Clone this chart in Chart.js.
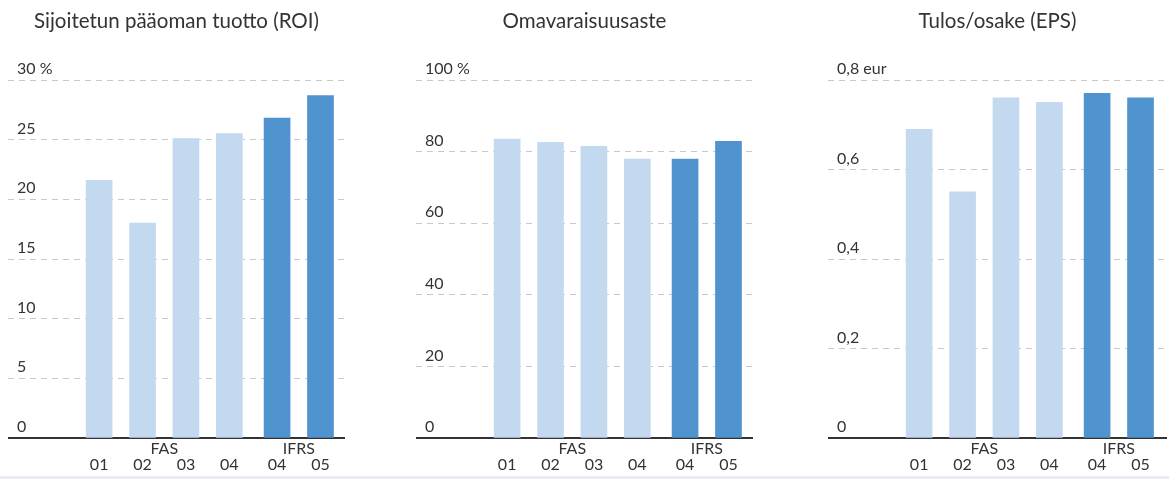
<!DOCTYPE html>
<html>
<head>
<meta charset="utf-8">
<script src="https://cdn.jsdelivr.net/npm/chart.js@4.4.1/dist/chart.umd.min.js"></script>
<style>
html, body { margin: 0; padding: 0; background: #ffffff; }
body { width: 1169px; height: 479px; position: relative; overflow: hidden; }
canvas { position: absolute; top: 0; }
#strip { position: absolute; left: 0; top: 476px; width: 1169px; height: 3px; background: #e7edf3; }
</style>
</head>
<body>
<canvas id="c1" width="337" height="479" style="left:8px"></canvas>
<canvas id="c2" width="337" height="479" style="left:416px"></canvas>
<canvas id="c3" width="339" height="479" style="left:828px"></canvas>
<div id="strip"></div>
<script>
const years = ['01', '02', '03', '04', '04', '05'];
const groups = ['FAS', 'FAS', 'FAS', 'FAS', 'IFRS', 'IFRS'];
const roiValues = [21.6, 18.0, 25.1, 25.5, 26.8, 28.7];
const equityValues = [83.5, 82.6, 81.5, 77.9, 77.9, 82.9];
const epsValues = [0.69, 0.55, 0.76, 0.75, 0.77, 0.76];
const roiTicks = ['0', '5', '10', '15', '20', '25', '30 %'];
const equityTicks = ['0', '20', '40', '60', '80', '100 %'];
const epsTicks = ['0', '0,2', '0,4', '0,6', '0,8 eur'];
const titles = ['Sijoitetun pääoman tuotto (ROI)', 'Omavaraisuusaste', 'Tulos/osake (EPS)'];

const FONT = 'Lato, "Open Sans", sans-serif';
const TEXT = '#333333';
const LIGHT = '#c3d9f0';
const DARK = '#4f93cf';
const GROUP_GAP = 0.1;

const xPos = years.map((y, i) => i + (groups[i] === 'IFRS' ? GROUP_GAP : 0));
const groupNames = [...new Set(groups)];
const groupCenters = groupNames.map(g => {
  const xs = xPos.filter((_, i) => groups[i] === g);
  return xs.reduce((a, b) => a + b, 0) / xs.length;
});

function makeChart(id, title, values, tickLabels, yMax, yStep, xMax) {
  new Chart(document.getElementById(id), {
    type: 'bar',
    data: {
      datasets: [{
        data: values.map((v, i) => ({ x: xPos[i], y: v })),
        backgroundColor: groups.map(g => g === 'IFRS' ? DARK : LIGHT),
        barThickness: 26,
        borderWidth: 0
      }]
    },
    options: {
      responsive: false,
      animation: false,
      layout: { padding: { left: 0, right: 0, top: 0, bottom: 3 } },
      plugins: {
        legend: { display: false },
        tooltip: { enabled: false },
        title: {
          display: true, text: title, color: TEXT,
          font: { family: FONT, size: 20.5, weight: 'normal' },
          padding: { top: 9, bottom: 46.4 }
        }
      },
      scales: {
        x: {
          type: 'linear', min: -2.1, max: xMax, offset: false,
          grid: { display: false, drawTicks: false },
          border: { display: true, color: '#333333', width: 2 },
          afterBuildTicks: s => {
            const t = xPos.map((v, i) => ({ value: v, lab: ['', years[i]] }))
              .concat(groupCenters.map((v, i) => ({ value: v, lab: [groupNames[i], ''] })));
            t.sort((a, b) => a.value - b.value);
            s.ticks = t;
          },
          ticks: {
            autoSkip: false, maxRotation: 0, minRotation: 0, padding: 3, color: TEXT,
            font: { family: FONT, size: 16, lineHeight: '16px' },
            callback: (v, i, ticks) => ticks[i].lab
          }
        },
        y: {
          min: 0, max: yMax,
          afterFit: s => { s.width = 0; },
          grid: { color: '#c8c8c8', lineWidth: 1, drawTicks: false },
          border: { display: false, dash: [6, 5] },
          ticks: {
            stepSize: yStep, mirror: true, padding: 9, labelOffset: -11, color: TEXT,
            font: { family: FONT, size: 16 },
            callback: (v, i) => tickLabels[i]
          }
        }
      }
    }
  });
}

makeChart('c1', titles[0], roiValues, roiTicks, 30, 5, 5.665);
makeChart('c2', titles[1], equityValues, equityTicks, 100, 20, 5.665);
makeChart('c3', titles[2], epsValues, epsTicks, 0.8, 0.2, 5.71);
</script>
</body>
</html>
